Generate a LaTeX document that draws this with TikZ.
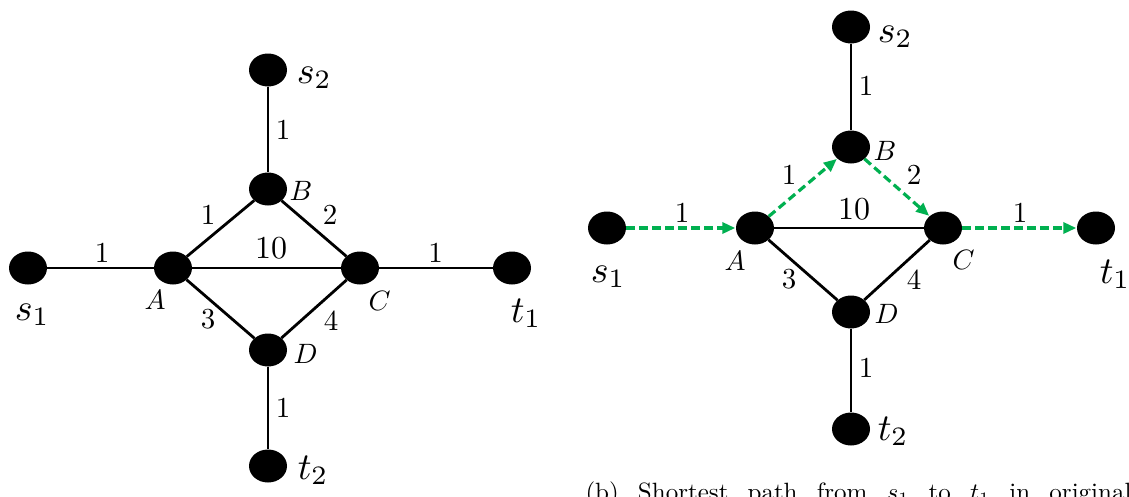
\RequirePackage{fix-cm}
\documentclass[tikz,border=0pt]{standalone}
\usepackage{fontspec}
\usetikzlibrary{shapes.geometric,arrows.meta}
\definecolor{grn}{RGB}{0,176,80}
\tikzset{
  vtx/.style={ellipse, fill=black, minimum width=38pt, minimum height=33pt, inner sep=0pt},
  edg/.style={line width=2.8pt, black},
  gedge/.style={line width=3.2pt, grn, dash pattern=on 8.5pt off 4.5pt, -{Triangle[length=13pt,width=11pt]}, shorten >=0.5pt},
  wlab/.style={inner sep=0pt, font=\fontsize{10}{12}\selectfont, scale=2.9, transform shape},
  tenlab/.style={inner sep=0pt, font=\fontsize{10}{12}\selectfont, scale=3.2, transform shape},
  vlab/.style={anchor=base west, inner sep=0pt, font=\fontsize{10}{12}\selectfont, scale=2.8, transform shape},
  stlab/.style={anchor=base west, inner sep=0pt, font=\fontsize{10}{12}\selectfont, scale=3.8, transform shape},
}
\begin{document}
\begin{tikzpicture}[x=1pt,y=-1pt]
\clip (0,0) rectangle (1129,496);
\useasboundingbox (0,0) rectangle (1129,496);
\fill[white] (0,0) rectangle (1129,496);

% ---------- left graph ----------
\node[vtx] (s1L) at (28,268) {};
\node[vtx] (AL) at (173,268) {};
\node[vtx] (CL) at (360,268) {};
\node[vtx] (t1L) at (512,268) {};
\node[vtx] (s2L) at (268,70) {};
\node[vtx] (BL) at (268,189) {};
\node[vtx] (DL) at (268,350) {};
\node[vtx] (t2L) at (268,466) {};

\draw[edg] (s1L) -- (AL);
\draw[edg] (AL) -- (CL);
\draw[edg] (CL) -- (t1L);
\draw[edg] (s2L) -- (BL);
\draw[edg] (AL) -- (BL);
\draw[edg] (BL) -- (CL);
\draw[edg] (AL) -- (DL);
\draw[edg] (DL) -- (CL);
\draw[edg] (DL) -- (t2L);

\node[stlab] (ls2L) at (296,83) {$s_2$};
\node[stlab] (ls1L) at (14,320) {$s_1$};
\node[stlab] (lt1L) at (510,322) {$t_1$};
\node[stlab] (lt2L) at (297,479) {$t_2$};
\node[vlab] (lBL) at (289,200) {$B$};
\node[vlab] (lAL) at (144,309) {$A$};
\node[vlab] (lCL) at (368,310) {$C$};
\node[vlab] (lDL) at (293,363) {$D$};

\node[wlab] (w1L) at (283,130) {1};
\node[wlab] (w2L) at (208,215) {1};
\node[wlab] (w3L) at (330,215) {2};
\node[tenlab] (w4L) at (271,248) {10};
\node[wlab] (w5L) at (208,319) {3};
\node[wlab] (w6L) at (331,321) {4};
\node[wlab] (w7L) at (102,253) {1};
\node[wlab] (w8L) at (435.5,253) {1};
\node[wlab] (w9L) at (283,408) {1};

% ---------- right graph ----------
\node[vtx] (s1R) at (607,228) {};
\node[vtx] (AR) at (755,228) {};
\node[vtx] (CR) at (943,228) {};
\node[vtx] (t1R) at (1096,228) {};
\node[vtx] (s2R) at (851,27) {};
\node[vtx] (BR) at (851,147) {};
\node[vtx] (DR) at (851,312) {};
\node[vtx] (t2R) at (851,429) {};

\draw[edg] (AR) -- (CR);
\draw[edg] (s2R) -- (BR);
\draw[edg] (AR) -- (DR);
\draw[edg] (DR) -- (CR);
\draw[edg] (DR) -- (t2R);
\draw[gedge] (s1R) -- (AR);
\draw[gedge] (AR) -- (BR);
\draw[gedge] (BR) -- (CR);
\draw[gedge] (CR) -- (t1R);

\node[stlab] (ls2R) at (877,42) {$s_2$};
\node[stlab] (ls1R) at (590,282) {$s_1$};
\node[stlab] (lt1R) at (1099,283) {$t_1$};
\node[stlab] (lt2R) at (877,440) {$t_2$};
\node[vlab] (lBR) at (873,160) {$B$};
\node[vlab] (lAR) at (724,270) {$A$};
\node[vlab] (lCR) at (952,269) {$C$};
\node[vlab] (lDR) at (874,323) {$D$};

\node[wlab] (w1R) at (866,86) {1};
\node[wlab] (w2R) at (789,175) {1};
\node[wlab] (w3R) at (914,175) {2};
\node[tenlab] (w4R) at (854,209) {10};
\node[wlab] (w5R) at (789,279) {3};
\node[wlab] (w6R) at (914,280) {4};
\node[wlab] (w7R) at (682,213) {1};
\node[wlab] (w8R) at (1020,213) {1};
\node[wlab] (w9R) at (866,368) {1};

% caption (cut off at the bottom)
\node[anchor=base west, inner sep=0pt, font=\fontsize{10}{12}\selectfont, scale=2.5, transform shape] (cap) at (585,500.5)
  {\makebox[218.4pt][s]{(b) Shortest path from $s_1$ to $t_1$ in original}};
\end{tikzpicture}
\end{document}
